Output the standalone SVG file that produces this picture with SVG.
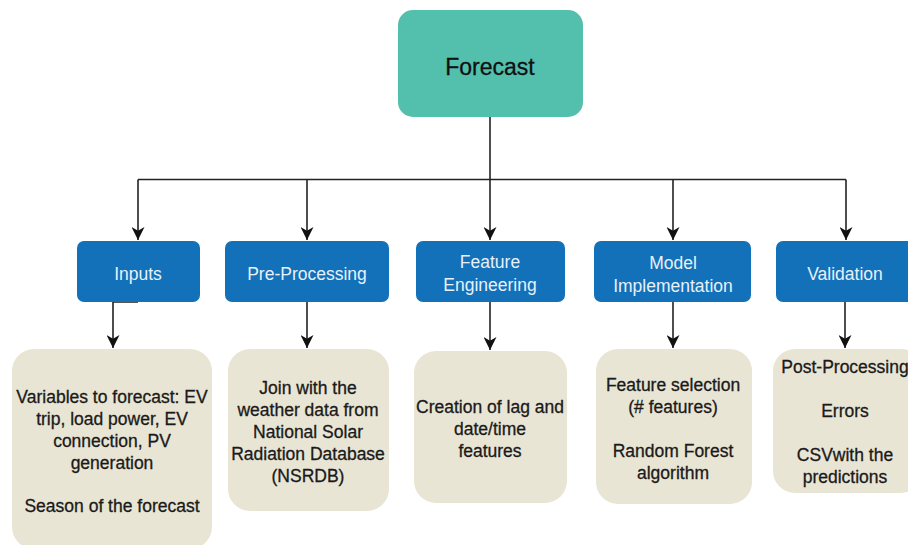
<svg xmlns="http://www.w3.org/2000/svg" width="908" height="545" viewBox="0 0 908 545">
<defs>
<style>
.root{fill:#53BFAD;}
.step{fill:#1271B8;}
.det{fill:#E9E5D4;}
.t{font-family:"Liberation Sans",Arial,sans-serif;text-anchor:middle;}
.tr{font-size:23px;fill:#111;stroke:#111;stroke-width:0.3;}
.ts{font-size:17.5px;fill:#E8F0F8;}
.td{font-size:17.5px;fill:#1a1a1a;stroke:#1a1a1a;stroke-width:0.3;}
.c{fill:none;stroke:#222;stroke-width:1.6;}
</style>
<marker id="ah" viewBox="0 0 12 12" refX="12" refY="6" markerWidth="13" markerHeight="13" markerUnits="userSpaceOnUse" orient="auto">
<path d="M0,0 L12,6 L0,12 L3.5,6 z" fill="#111"/>
</marker>
</defs>
<rect width="908" height="545" fill="#fff"/>

<g id="connectors">
<path class="c" d="M490,117 V179.5"/>
<path class="c" d="M138,179.5 H846"/>
<path class="c" d="M138,179.5 V240" marker-end="url(#ah)"/>
<path class="c" d="M307,179.5 V240" marker-end="url(#ah)"/>
<path class="c" d="M490,179.5 V240" marker-end="url(#ah)"/>
<path class="c" d="M673,179.5 V240" marker-end="url(#ah)"/>
<path class="c" d="M846,179.5 V240" marker-end="url(#ah)"/>
<path class="c" d="M138,302 H113 V348" marker-end="url(#ah)"/>
<path class="c" d="M307,302 V348" marker-end="url(#ah)"/>
<path class="c" d="M490,302 V350" marker-end="url(#ah)"/>
<path class="c" d="M673,302 V348" marker-end="url(#ah)"/>
<path class="c" d="M845,302 V348" marker-end="url(#ah)"/>
</g>

<g id="forecast">
<rect class="root" x="398" y="10" width="185" height="107" rx="15"/>
<text class="t tr" x="490" y="75">Forecast</text>
</g>

<g id="inputs">
<rect class="step" x="77" y="241" width="123" height="61" rx="7"/>
<text class="t ts" x="138" y="280">Inputs</text>
</g>
<g id="preprocessing">
<rect class="step" x="225" y="241" width="164" height="61" rx="7"/>
<text class="t ts" x="307" y="280">Pre-Processing</text>
</g>
<g id="featureeng">
<rect class="step" x="416" y="241" width="149" height="61" rx="7"/>
<text class="t ts" x="490" y="268">Feature</text>
<text class="t ts" x="490" y="291">Engineering</text>
</g>
<g id="model">
<rect class="step" x="594" y="241" width="157" height="61" rx="7"/>
<text class="t ts" x="673" y="269">Model</text>
<text class="t ts" x="673" y="292">Implementation</text>
</g>
<g id="validation">
<rect class="step" x="776" y="241" width="140" height="61" rx="7"/>
<text class="t ts" x="845" y="280">Validation</text>
</g>

<g id="inputs-detail">
<rect class="det" x="12" y="349" width="200" height="200" rx="22"/>
<text class="t td" x="112" y="403">Variables to forecast: EV</text>
<text class="t td" x="112" y="425">trip, load power, EV</text>
<text class="t td" x="112" y="447">connection, PV</text>
<text class="t td" x="112" y="469">generation</text>
<text class="t td" x="112" y="512">Season of the forecast</text>
</g>
<g id="preprocessing-detail">
<rect class="det" x="228" y="349" width="161" height="162" rx="22"/>
<text class="t td" x="308" y="394">Join with the</text>
<text class="t td" x="308" y="416">weather data from</text>
<text class="t td" x="308" y="438">National Solar</text>
<text class="t td" x="308" y="460">Radiation Database</text>
<text class="t td" x="308" y="482">(NSRDB)</text>
</g>
<g id="featureeng-detail">
<rect class="det" x="414" y="351" width="153" height="152" rx="22"/>
<text class="t td" x="490" y="413">Creation of lag and</text>
<text class="t td" x="490" y="435">date/time</text>
<text class="t td" x="490" y="457">features</text>
</g>
<g id="model-detail">
<rect class="det" x="596" y="349" width="156" height="155" rx="22"/>
<text class="t td" x="673" y="391">Feature selection</text>
<text class="t td" x="673" y="413">(# features)</text>
<text class="t td" x="673" y="457">Random Forest</text>
<text class="t td" x="673" y="479">algorithm</text>
</g>
<g id="validation-detail">
<rect class="det" x="773" y="349" width="150" height="144" rx="22"/>
<text class="t td" x="845" y="373">Post-Processing</text>
<text class="t td" x="845" y="417">Errors</text>
<text class="t td" x="845" y="461">CSVwith the</text>
<text class="t td" x="845" y="483">predictions</text>
</g>
</svg>
